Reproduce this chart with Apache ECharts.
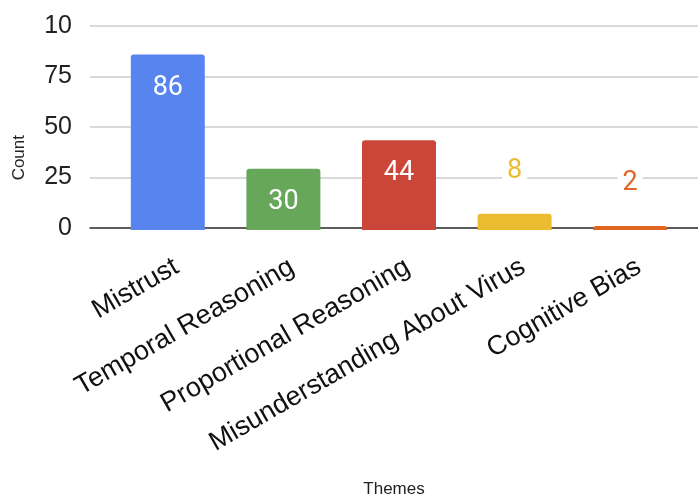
<!DOCTYPE html>
<html>
<head>
<meta charset="utf-8">
<script src="https://cdn.jsdelivr.net/npm/echarts@6/dist/echarts.min.js"></script>
<style>
  html, body { margin: 0; padding: 0; background: #fff; }
  #chart { width: 698px; height: 499px; }
</style>
</head>
<body>
<div id="chart"></div>
<script>
// Theme counts
const themes = ['Mistrust', 'Temporal Reasoning', 'Proportional Reasoning', 'Misunderstanding About Virus', 'Cognitive Bias'];
const counts = [86, 30, 44, 8, 2];
const yTickLabels = ['0', '25', '50', '75', '10'];

const barColors = ['#5884EF', '#66A75A', '#CB4638', '#EBBC30', '#E0661F'];
const FONT = '"Liberation Sans", Arial, sans-serif';

const barData = counts.map((v, i) => {
  const inside = v >= 20;
  return {
    value: v,
    itemStyle: { color: barColors[i], borderRadius: [3, 3, 0, 0] },
    label: inside
      ? { show: true, position: 'insideTop', distance: 20, color: '#fff', fontSize: 27, fontFamily: 'Roboto, sans-serif' }
      : { show: true, position: 'top', distance: 29, color: barColors[i], fontSize: 27, fontFamily: 'Roboto, sans-serif',
          backgroundColor: '#fff', padding: [0, 5] }
  };
});

const chart = echarts.init(document.getElementById('chart'), null, { renderer: 'canvas' });
chart.setOption({
  animation: false,
  grid: [
    { left: 90, right: 0, top: 26, bottom: 269 },
    { left: 110, right: 10, top: 26, bottom: 269 }
  ],
  xAxis: [
    {
      gridIndex: 0, type: 'value', min: 0, max: 1,
      axisLine: { show: true, lineStyle: { color: '#333', width: 1.5 } },
      axisTick: { show: false }, axisLabel: { show: false }, splitLine: { show: false },
      name: 'Themes', nameLocation: 'middle', nameGap: 253,
      nameTextStyle: { fontSize: 17, color: '#222', fontFamily: FONT }
    },
    {
      gridIndex: 1, type: 'category', data: themes,
      axisLine: { show: false }, axisTick: { show: false },
      axisLabel: { rotate: 30, fontSize: 27, color: '#111', fontFamily: FONT, margin: 40,
                   padding: [0, -10, 0, 0], interval: 0 }
    }
  ],
  yAxis: [
    {
      gridIndex: 0, type: 'value', min: 0, max: 100, interval: 25,
      axisLine: { show: false }, axisTick: { show: false },
      axisLabel: {
        fontSize: 25, color: '#222', fontFamily: FONT, margin: 18,
        formatter: (v) => yTickLabels[Math.round(v / 25)]
      },
      splitLine: { lineStyle: { color: '#cccccc', width: 1.5 } }
    },
    {
      gridIndex: 1, type: 'value', min: 0, max: 100, interval: 25, show: false,
      splitLine: { show: false }
    }
  ],
  graphic: [
    {
      type: 'text', left: 11, top: 135, rotation: Math.PI / 2,
      style: { text: 'Count', fontSize: 17, fill: '#222', fontFamily: FONT }
    }
  ],
  series: [
    {
      type: 'bar', xAxisIndex: 1, yAxisIndex: 1,
      barWidth: '64%', data: barData, z: 3
    }
  ]
});
</script>
</body>
</html>
